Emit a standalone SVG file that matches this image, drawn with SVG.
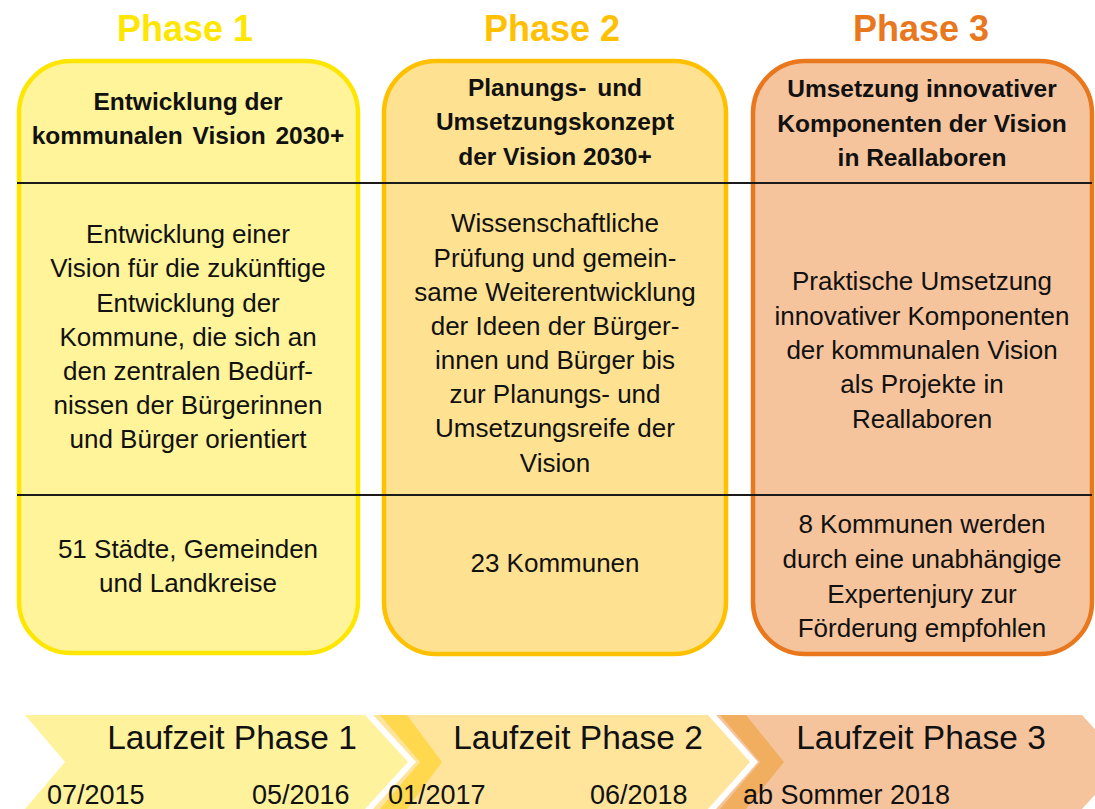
<svg xmlns="http://www.w3.org/2000/svg" width="1095" height="809" viewBox="0 0 1095 809">
<style>
.title{font-family:"Liberation Sans",Arial,sans-serif;font-weight:bold;font-size:36px;text-anchor:middle}
.head{font-family:"Liberation Sans",Arial,sans-serif;font-weight:bold;font-size:24.5px;text-anchor:middle;fill:#111}
.body{font-family:"Liberation Sans",Arial,sans-serif;font-size:26px;text-anchor:middle;fill:#111}
.lz{font-family:"Liberation Sans",Arial,sans-serif;font-size:33.5px;text-anchor:middle;fill:#111}
.date{font-family:"Liberation Sans",Arial,sans-serif;font-size:27px;fill:#111}
.box{stroke-width:4.5}
</style>
<rect width="1095" height="809" fill="#fff"/>
<g id="phase1">
<text class="title" x="185" y="41" fill="#FFE600">Phase 1</text>
<rect class="box" x="19" y="61" width="339" height="592" rx="52" ry="52" fill="#FFF49A" stroke="#FFE600"/>
<text class="head" x="188" y="110">Entwicklung der</text>
<text class="head" x="188" y="144" word-spacing="3">kommunalen Vision 2030+</text>
<text class="body" x="188" y="243">Entwicklung einer</text>
<text class="body" x="188" y="277">Vision für die zukünftige</text>
<text class="body" x="188" y="312">Entwicklung der</text>
<text class="body" x="188" y="346">Kommune, die sich an</text>
<text class="body" x="188" y="380">den zentralen Bedürf-</text>
<text class="body" x="188" y="414">nissen der Bürgerinnen</text>
<text class="body" x="188" y="448">und Bürger orientiert</text>
<text class="body" x="188" y="558">51 Städte, Gemeinden</text>
<text class="body" x="188" y="592">und Landkreise</text>
</g>
<g id="phase2">
<text class="title" x="552" y="41" fill="#FFC000">Phase 2</text>
<rect class="box" x="384" y="61" width="342" height="593" rx="52" ry="52" fill="#FFE291" stroke="#FFC000"/>
<text class="head" x="555" y="96" word-spacing="4">Planungs- und</text>
<text class="head" x="555" y="130">Umsetzungskonzept</text>
<text class="head" x="555" y="165">der Vision 2030+</text>
<text class="body" x="555" y="232">Wissenschaftliche</text>
<text class="body" x="555" y="267">Prüfung und gemein-</text>
<text class="body" x="555" y="301">same Weiterentwicklung</text>
<text class="body" x="555" y="335">der Ideen der Bürger-</text>
<text class="body" x="555" y="369">innen und Bürger bis</text>
<text class="body" x="555" y="403">zur Planungs- und</text>
<text class="body" x="555" y="437">Umsetzungsreife der</text>
<text class="body" x="555" y="472">Vision</text>
<text class="body" x="555" y="572">23 Kommunen</text>
</g>
<g id="phase3">
<text class="title" x="921" y="41" fill="#E8771E">Phase 3</text>
<rect class="box" x="753" y="61" width="339" height="593" rx="52" ry="52" fill="#F5C49C" stroke="#E8771E"/>
<text class="head" x="922" y="97">Umsetzung innovativer</text>
<text class="head" x="922" y="132">Komponenten der Vision</text>
<text class="head" x="922" y="166">in Reallaboren</text>
<text class="body" x="922" y="290">Praktische Umsetzung</text>
<text class="body" x="922" y="325">innovativer Komponenten</text>
<text class="body" x="922" y="359">der kommunalen Vision</text>
<text class="body" x="922" y="393">als Projekte in</text>
<text class="body" x="922" y="428">Reallaboren</text>
<text class="body" x="922" y="533">8 Kommunen werden</text>
<text class="body" x="922" y="568">durch eine unabhängige</text>
<text class="body" x="922" y="603">Expertenjury zur</text>
<text class="body" x="922" y="637">Förderung empfohlen</text>
</g>
<g id="connectors" stroke="#1a1a1a" stroke-width="2">
<line x1="17" y1="183" x2="1092" y2="183"/>
<line x1="17" y1="495" x2="1092" y2="495"/>
</g>
<g id="timeline">
<polygon points="25,715 365,715 408,762 365,809 25,809 65,762" fill="#FFF29C"/>
<polygon points="373,715 708,715 750,762 708,809 373,809 416,762" fill="#FFE49C"/>
<polygon points="380,715 407,715 442,762 407,809 380,809 420,762" fill="#FFD84E"/>
<polygon points="716,715 1082,715 1125,762 1082,809 716,809 758,762" fill="#F5C49C"/>
<polygon points="720,715 746,715 784,762 746,809 720,809 760,762" fill="#F0AE5E"/>
<text class="lz" x="232" y="749">Laufzeit Phase 1</text>
<text class="lz" x="578" y="749">Laufzeit Phase 2</text>
<text class="lz" x="921" y="749">Laufzeit Phase 3</text>
<text class="date" x="47" y="804">07/2015</text>
<text class="date" x="252" y="804">05/2016</text>
<text class="date" x="388" y="804">01/2017</text>
<text class="date" x="590" y="804">06/2018</text>
<text class="date" x="743" y="804">ab Sommer 2018</text>
</g>
</svg>
